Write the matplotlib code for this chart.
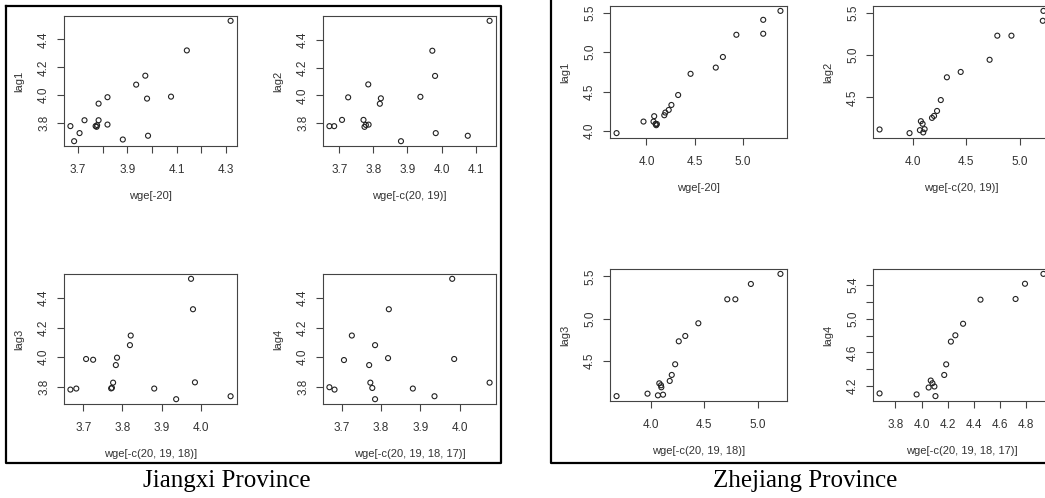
import numpy as np
import matplotlib.pyplot as plt
from matplotlib.lines import Line2D

plt.rcParams['font.family'] = 'Liberation Sans'

# Jiangxi: lagged log wages, one (x, y) pair of arrays per lag
jx_lag1_x = [3.670, 3.685, 3.707, 3.727, 3.772, 3.776, 3.778, 3.784, 3.784, 3.820,
             3.820, 3.882, 3.936, 3.973, 3.980, 3.984, 4.077, 4.141, 4.318]
jx_lag1_y = [3.779, 3.671, 3.729, 3.821, 3.779, 3.774, 3.786, 3.821, 3.940, 3.986,
             3.790, 3.683, 4.076, 4.140, 3.976, 3.710, 3.990, 4.321, 4.533]
jx_lag2_x = [3.671, 3.685, 3.708, 3.726, 3.771, 3.774, 3.778, 3.786, 3.785, 3.819,
             3.822, 3.881, 3.938, 3.973, 3.981, 3.983, 4.077, 4.141]
jx_lag2_y = [3.779, 3.779, 3.824, 3.986, 3.824, 3.774, 3.788, 3.790, 4.079, 3.940,
             3.979, 3.671, 3.990, 4.321, 4.140, 3.729, 3.710, 4.536]
jx_lag3_x = [3.667, 3.682, 3.707, 3.725, 3.771, 3.773, 3.776, 3.783, 3.786, 3.819,
             3.821, 3.881, 3.937, 3.975, 3.980, 3.985, 4.076]
jx_lag3_y = [3.780, 3.787, 3.987, 3.982, 3.788, 3.792, 3.827, 3.946, 3.996, 4.081,
             4.146, 3.787, 3.715, 4.530, 4.324, 3.829, 3.735]
jx_lag4_x = [3.669, 3.682, 3.706, 3.726, 3.770, 3.773, 3.778, 3.785, 3.785, 3.818,
             3.820, 3.881, 3.936, 3.981, 3.986, 4.076]
jx_lag4_y = [3.796, 3.780, 3.980, 4.146, 3.946, 3.827, 3.791, 4.081, 3.715, 3.993,
             4.324, 3.787, 3.735, 4.530, 3.987, 3.827]

# Zhejiang
zj_lag1_x = [3.689, 3.969, 4.073, 4.080, 4.094, 4.101, 4.108, 4.185, 4.196, 4.231,
             4.259, 4.329, 4.458, 4.720, 4.794, 4.934, 5.213, 5.213, 5.392]
zj_lag1_y = [3.975, 4.121, 4.121, 4.189, 4.092, 4.075, 4.090, 4.201, 4.235, 4.268,
             4.331, 4.457, 4.725, 4.804, 4.938, 5.219, 5.232, 5.408, 5.521]
zj_lag2_x = [3.689, 3.969, 4.066, 4.075, 4.091, 4.097, 4.110, 4.179, 4.198, 4.226,
             4.261, 4.318, 4.447, 4.717, 4.789, 4.921, 5.214, 5.220]
zj_lag2_y = [4.121, 4.078, 4.113, 4.219, 4.188, 4.086, 4.125, 4.258, 4.281, 4.340,
             4.469, 4.738, 4.801, 4.945, 5.230, 5.230, 5.406, 5.523]
zj_lag3_x = [3.674, 3.965, 4.063, 4.076, 4.092, 4.095, 4.111, 4.174, 4.193, 4.225,
             4.259, 4.320, 4.443, 4.715, 4.791, 4.937, 5.215]
zj_lag3_y = [4.085, 4.114, 4.094, 4.236, 4.213, 4.189, 4.102, 4.264, 4.335, 4.461,
             4.732, 4.795, 4.945, 5.228, 5.228, 5.409, 5.528]
zj_lag4_x = [3.679, 3.962, 4.054, 4.070, 4.083, 4.098, 4.106, 4.173, 4.188, 4.224,
             4.258, 4.317, 4.450, 4.718, 4.790, 4.931]
zj_lag4_y = [4.114, 4.102, 4.184, 4.267, 4.235, 4.196, 4.082, 4.333, 4.459, 4.729,
             4.804, 4.941, 5.227, 5.235, 5.416, 5.533]

x_names = ['wge[-20]', 'wge[-c(20, 19)]', 'wge[-c(20, 19, 18)]', 'wge[-c(20, 19, 18, 17)]']
y_names = ['lag1', 'lag2', 'lag3', 'lag4']

# tick values and the labels R kept for each panel
jx_xticks = [[3.7, 3.8, 3.9, 4.0, 4.1, 4.2, 4.3], [3.7, 3.8, 3.9, 4.0, 4.1],
             [3.7, 3.8, 3.9, 4.0], [3.7, 3.8, 3.9, 4.0]]
jx_xlabels = [['3.7', '', '3.9', '', '4.1', '', '4.3'], ['3.7', '3.8', '3.9', '4.0', '4.1'],
              ['3.7', '3.8', '3.9', '4.0'], ['3.7', '3.8', '3.9', '4.0']]
jx_yticks = [[3.8, 4.0, 4.2, 4.4]] * 4
jx_ylabels = [['3.8', '4.0', '4.2', '4.4']] * 4

zj_xticks = [[4.0, 4.5, 5.0], [4.0, 4.5, 5.0], [4.0, 4.5, 5.0],
             [3.8, 4.0, 4.2, 4.4, 4.6, 4.8]]
zj_xlabels = [['4.0', '4.5', '5.0'], ['4.0', '4.5', '5.0'], ['4.0', '4.5', '5.0'],
              ['3.8', '4.0', '4.2', '4.4', '4.6', '4.8']]
zj_yticks = [[4.0, 4.5, 5.0, 5.5], [4.5, 5.0, 5.5], [4.5, 5.0, 5.5],
             [4.2, 4.4, 4.6, 4.8, 5.0, 5.2, 5.4]]
zj_ylabels = [['4.0', '4.5', '5.0', '5.5'], ['4.5', '5.0', '5.5'], ['4.5', '5.0', '5.5'],
              ['4.2', '', '4.6', '', '5.0', '', '5.4']]

W, H = 1045, 498
fig = plt.figure(figsize=(W / 100, H / 100), dpi=100)


def px_axes(left, top, width, height):
    return fig.add_axes([left / W, 1 - (top + height) / H, width / W, height / H])


def lag_plot(ax, x, y, xlab, ylab, xt, xtl, yt, ytl):
    ax.scatter(x, y, s=13, marker='o', facecolors='none', edgecolors='#222222', linewidths=0.8)
    ax.margins(0.04)
    ax.set_xlim(*ax.get_xlim())
    ax.set_ylim(*ax.get_ylim())
    ax.set_xticks(xt)
    ax.set_xticklabels(xtl)
    ax.set_yticks(yt)
    ax.set_yticklabels(ytl, rotation=90, va='center')
    for s in ax.spines.values():
        s.set_color('#444444')
        s.set_linewidth(0.8)
    ax.tick_params(direction='out', length=5, width=0.8, color='#444444',
                   labelsize=8.5, labelcolor='#333333')
    ax.tick_params(axis='x', pad=8)
    ax.tick_params(axis='y', pad=5)
    ax.set_xlabel(xlab, fontsize=8, color='#333333', labelpad=11)
    ax.set_ylabel(ylab, fontsize=8, color='#333333', labelpad=10)


jx_data = [(jx_lag1_x, jx_lag1_y), (jx_lag2_x, jx_lag2_y),
           (jx_lag3_x, jx_lag3_y), (jx_lag4_x, jx_lag4_y)]
zj_data = [(zj_lag1_x, zj_lag1_y), (zj_lag2_x, zj_lag2_y),
           (zj_lag3_x, zj_lag3_y), (zj_lag4_x, zj_lag4_y)]

jx_pos = [(64, 16), (323, 16), (64, 274), (323, 274)]
zj_pos = [(610, 6), (873, 6), (610, 269), (873, 269)]

for i in range(4):
    ax = px_axes(jx_pos[i][0], jx_pos[i][1], 173, 130)
    lag_plot(ax, jx_data[i][0], jx_data[i][1], x_names[i], y_names[i],
             jx_xticks[i], jx_xlabels[i], jx_yticks[i], jx_ylabels[i])
    ax = px_axes(zj_pos[i][0], zj_pos[i][1], 177, 132)
    lag_plot(ax, zj_data[i][0], zj_data[i][1], x_names[i], y_names[i],
             zj_xticks[i], zj_xlabels[i], zj_yticks[i], zj_ylabels[i])


def fig_line(xs, ys):
    fig.add_artist(Line2D([x / W for x in xs], [1 - y / H for y in ys],
                          color='black', linewidth=1.6, solid_capstyle='projecting'))


# frame around the Jiangxi panel, and the clipped frame of the Zhejiang one
fig_line([6, 501, 501, 6, 6], [6, 6, 463, 463, 6])
fig_line([551, 551, 1045], [0, 463, 463])

fig.text(227 / W, 1 - 481 / H, 'Jiangxi Province', family='Liberation Serif',
         fontsize=18, ha='center', va='center')
fig.text(805 / W, 1 - 481 / H, 'Zhejiang Province', family='Liberation Serif',
         fontsize=18, ha='center', va='center')

fig.savefig('out.png', dpi=100)
